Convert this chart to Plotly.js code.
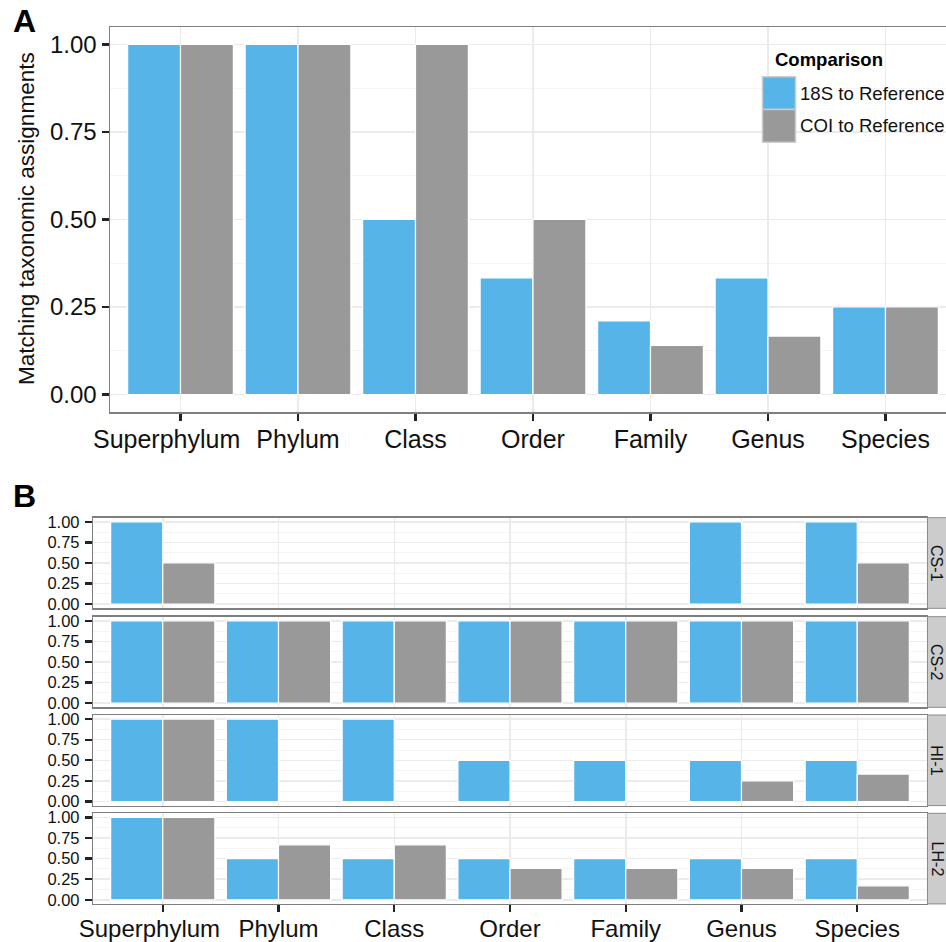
<!DOCTYPE html>
<html><head><meta charset="utf-8">
<script src="https://cdn.plot.ly/plotly-3.0.1.min.js"></script>
<style>html,body{margin:0;padding:0;background:#fff;overflow:hidden}#chart{width:946px;height:942px}</style>
</head><body><div id="chart"></div>
<script>
// ---------- data ----------
const categories = ["Superphylum","Phylum","Class","Order","Family","Genus","Species"];
const seriesNames = ["18S to Reference","COI to Reference"];
const overall18S = [1, 1, 0.5, 0.333, 0.21, 0.333, 0.25];
const overallCOI = [1, 1, 1, 0.5, 0.14, 0.167, 0.25];
const sites = ["CS-1","CS-2","HI-1","LH-2"];
// null = no bar drawn in the reference
const cs1_18S = [1, null, null, null, null, 1, 1];
const cs1_COI = [0.5, null, null, null, null, null, 0.5];
const cs2_18S = [1, 1, 1, 1, 1, 1, 1];
const cs2_COI = [1, 1, 1, 1, 1, 1, 1];
const hi1_18S = [1, 1, 1, 0.5, 0.5, 0.5, 0.5];
const hi1_COI = [1, null, null, null, null, 0.25, 0.333];
const lh2_18S = [1, 0.5, 0.5, 0.5, 0.5, 0.5, 0.5];
const lh2_COI = [1, 0.667, 0.667, 0.38, 0.38, 0.38, 0.17];
const yTickVals = [0, 0.25, 0.5, 0.75, 1];
const yTickText = ["0.00","0.25","0.50","0.75","1.00"];
const yTitle = "Matching taxonomic assignments";
const legendTitle = "Comparison";

// ---------- style ----------
const BLUE = "#56B4E9", GREY = "#999999";
const FONT = "Liberation Sans, Arial, Helvetica, sans-serif";
const W = 946, H = 942;
const px = v => v / W;
const py = v => 1 - v / H;
// in the reference the first (long) label sits left of its tick
const xTickText = categories.map((c, i) => i === 0 ? c + "\u00A0\u00A0\u00A0\u00A0" : c);

const facetData = [[cs1_18S, cs1_COI],[cs2_18S, cs2_COI],[hi1_18S, hi1_COI],[lh2_18S, lh2_COI]];

function bar(name, y, color, xa, ya) {
  return {type: "bar", name: name, x: categories, y: y, xaxis: xa, yaxis: ya,
    marker: {color: color, line: {color: "#FFFFFF", width: 1.2}},
    showlegend: false, hoverinfo: "x+y+name"};
}

const traces = [
  bar(seriesNames[0], overall18S, BLUE, "x", "y"),
  bar(seriesNames[1], overallCOI, GREY, "x", "y")
];
facetData.forEach((d, i) => {
  const n = i + 2;
  traces.push(bar(seriesNames[0], d[0], BLUE, "x" + n, "y" + n));
  traces.push(bar(seriesNames[1], d[1], GREY, "x" + n, "y" + n));
});

function xAxis(domain, anchor, range, showLabels, fontSize, standoff) {
  return {domain: domain, anchor: anchor, type: "category",
    categoryorder: "array", categoryarray: categories, range: range,
    tickmode: "array", tickvals: categories, ticktext: xTickText, tickangle: 0,
    showgrid: true, gridcolor: "#EBEBEB", gridwidth: 1.5, zeroline: false,
    showline: true, mirror: true, linecolor: "#7F7F7F", linewidth: 1.5,
    ticks: showLabels ? "outside" : "", ticklen: 7, tickwidth: 2.2, tickcolor: "#222",
    ticklabelstandoff: standoff || 0,
    showticklabels: showLabels, tickfont: {family: FONT, size: fontSize, color: "#111"},
    fixedrange: true};
}
function yAxis(domain, anchor, fontSize, standoff) {
  return {domain: domain, anchor: anchor, range: [-0.05, 1.05],
    tickmode: "array", tickvals: yTickVals, ticktext: yTickText,
    showgrid: true, gridcolor: "#EBEBEB", gridwidth: 1.5, zeroline: false,
    minor: {dtick: 0.125, tick0: 0, showgrid: true, gridcolor: "#F5F5F5", gridwidth: 1, ticks: ""},
    showline: true, mirror: true, linecolor: "#7F7F7F", linewidth: 1.5,
    ticks: "outside", ticklen: 7, tickwidth: 2.2, tickcolor: "#222",
    ticklabelstandoff: standoff || 0,
    tickfont: {family: FONT, size: fontSize, color: "#111"}, fixedrange: true};
}

const layout = {
  width: W, height: H, autosize: false,
  margin: {l: 0, r: 0, t: 0, b: 0},
  paper_bgcolor: "#FFFFFF", plot_bgcolor: "#FFFFFF",
  barmode: "group", bargap: 0.1, bargroupgap: 0,
  font: {family: FONT, color: "#111"},
  xaxis: xAxis([px(110), 1], "y", [-0.6, 6.515], true, 25, -3),
  yaxis: yAxis([py(412), py(27)], "x", 24, 0),
  shapes: [], annotations: []
};

const facetTops = [517.7, 616.7, 715, 813.3];
const facetH = 90.6;
const bDomainX = [px(93.3), px(926.7)];
facetTops.forEach((t, i) => {
  const n = i + 2;
  layout["xaxis" + n] = xAxis(bDomainX, "y" + n, [-0.6, 6.6], i === 3, 24, -4);
  layout["yaxis" + n] = yAxis([py(t + facetH), py(t)], "x" + n, 16.5, 2);
  // strip
  layout.shapes.push({type: "rect", xref: "paper", yref: "paper",
    x0: px(927.5), x1: px(960), y0: py(t + facetH), y1: py(t),
    fillcolor: "#CCCCCC", line: {color: "#8A8A8A", width: 1}, layer: "above"});
  layout.annotations.push({xref: "paper", yref: "paper", x: px(937), y: py(t + facetH / 2),
    text: sites[i], showarrow: false, textangle: 90,
    font: {family: FONT, size: 16, color: "#111"}, xanchor: "center", yanchor: "middle"});
});

// panel labels & axis title
layout.annotations.push(
  {xref: "paper", yref: "paper", x: px(11), y: py(21), text: "<b>A</b>", showarrow: false,
   xanchor: "left", yanchor: "middle", font: {family: FONT, size: 32, color: "#000"}},
  {xref: "paper", yref: "paper", x: px(11), y: py(496), text: "<b>B</b>", showarrow: false,
   xanchor: "left", yanchor: "middle", font: {family: FONT, size: 32, color: "#000"}},
  {xref: "paper", yref: "paper", x: px(26), y: py(219), text: yTitle, showarrow: false,
   textangle: -90, xanchor: "center", yanchor: "middle", font: {family: FONT, size: 22.5, color: "#111"}}
);

// legend (drawn manually to match large key boxes)
layout.annotations.push({xref: "paper", yref: "paper", x: px(773), y: py(60), text: "<b>" + legendTitle + "</b>",
  showarrow: false, xanchor: "left", yanchor: "middle", font: {family: FONT, size: 18.5, color: "#000"}});
[[BLUE, 76.7], [GREY, 109.5]].forEach((k, i) => {
  layout.shapes.push({type: "rect", xref: "paper", yref: "paper",
    x0: px(762.5), x1: px(795.5), y0: py(k[1] + 32.8), y1: py(k[1]),
    fillcolor: k[0], line: {color: "#CCCCCC", width: 1.5}, layer: "above"});
  layout.annotations.push({xref: "paper", yref: "paper", x: px(798), y: py(k[1] + 16.4),
    text: seriesNames[i], showarrow: false, xanchor: "left", yanchor: "middle",
    font: {family: FONT, size: 18.6, color: "#111"}});
});

Plotly.newPlot("chart", traces, layout, {displayModeBar: false, staticPlot: true});
</script>
</body></html>
